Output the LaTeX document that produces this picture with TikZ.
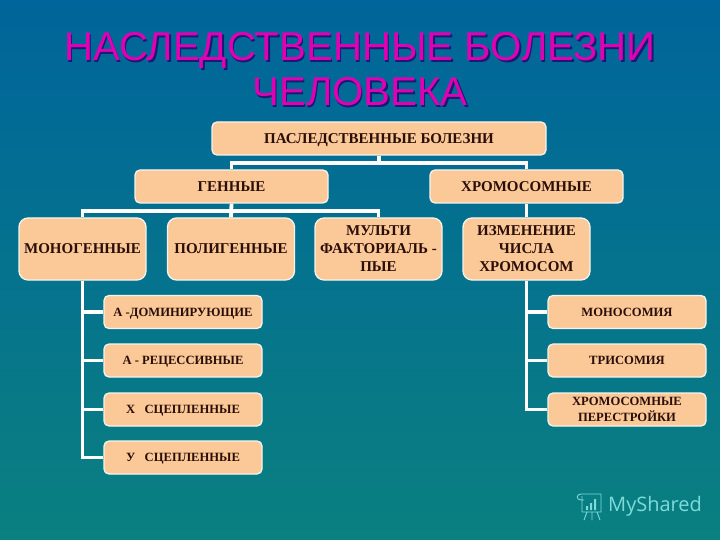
\documentclass[tikz,border=0pt]{standalone}
\usepackage{fontspec}
\setmainfont{Liberation Serif}
\newfontfamily\titlefont{Liberation Sans}
\newfontfamily\markfont{Open Sans}
\definecolor{boxfill}{HTML}{FBC898}
\definecolor{boxline}{HTML}{F4F4EE}
\definecolor{inktext}{HTML}{2A0E08}
\definecolor{bgtop}{HTML}{00659B}
\definecolor{bgbot}{HTML}{0A8080}
\definecolor{titlecol}{HTML}{E000B4}
\definecolor{titleshade}{HTML}{1A1A70}
\definecolor{markcol}{HTML}{7FDADA}
\tikzset{
  bx/.style={draw=boxline,line width=1.3pt,fill=boxfill,rounded corners=5pt,inner sep=0pt,
    align=center,text=inktext,font=\bfseries\fontsize{15}{18}\selectfont},
  wide/.style={bx,minimum width=193pt,minimum height=33pt},
  tall/.style={bx,minimum width=127pt,minimum height=62pt,rounded corners=9pt},
  small/.style={bx,minimum width=158pt,minimum height=33pt,font=\bfseries\fontsize{12.6}{15}\selectfont},
  nodepth/.style={text depth=0pt},
  conn/.style={draw=white,line width=3.8pt},
  ttl/.style={font=\titlefont\fontsize{40.2}{46}\selectfont,inner sep=0pt,anchor=base},
}
\begin{document}
\begin{tikzpicture}[x=1pt,y=-1pt]
\useasboundingbox (0,0) rectangle (720,540);
\fill[top color=bgtop,bottom color=bgbot,shading angle=0] (0,0) rectangle (720,540);
% title
\node[ttl,text=titleshade] (t1s) at (361.5,62.5) {НАСЛЕДСТВЕННЫЕ БОЛЕЗНИ};
\node[ttl,text=titleshade] (t2s) at (361.5,107.5) {ЧЕЛОВЕКА};
\node[ttl,text=titlecol] (t1) at (360,61) {НАСЛЕДСТВЕННЫЕ БОЛЕЗНИ};
\node[ttl,text=titlecol] (t2) at (360,106) {ЧЕЛОВЕКА};
% boxes
\node[wide,minimum width=334pt,nodepth] (root) at (379,138.5) {ПАСЛЕДСТВЕННЫЕ БОЛЕЗНИ};
\node[wide] (gen) at (231.5,186.5) {ГЕННЫЕ};
\node[wide] (chr) at (526.5,186.5) {ХРОМОСОМНЫЕ};
\node[tall] (mono) at (82.5,249) {МОНОГЕННЫЕ};
\node[tall] (poly) at (231,249) {ПОЛИГЕННЫЕ};
\node[tall] (multi) at (378.5,249) {МУЛЬТИ\\ФАКТОРИАЛЬ -\\ПЫЕ};
\node[tall] (izm) at (526.5,249) {ИЗМЕНЕНИЕ\\ЧИСЛА\\ХРОМОСОМ};
\node[small,nodepth] (a1) at (183,312) {А -ДОМИНИРУЮЩИЕ};
\node[small,nodepth] (a2) at (183,360.5) {А - РЕЦЕССИВНЫЕ};
\node[small,nodepth] (a3) at (183,409.5) {Х\ \ \ СЦЕПЛЕННЫЕ};
\node[small,nodepth] (a4) at (183,457.5) {У\ \ \ СЦЕПЛЕННЫЕ};
\node[small] (b1) at (627,312) {МОНОСОМИЯ};
\node[small] (b2) at (627,360.5) {ТРИСОМИЯ};
\node[small,font=\bfseries\fontsize{12.6}{15.5}\selectfont] (b3) at (627,409.5) {ХРОМОСОМНЫЕ\\ПЕРЕСТРОЙКИ};
% connectors
\draw[conn] (root.south) -- ++(0,7.5) -| (gen.north);
\draw[conn] (root.south) -- ++(0,7.5) -| (chr.north);
\draw[conn] (gen.south) -- ++(0,7.5) -| (mono.north);
\draw[conn] (gen.south) -- (poly.north);
\draw[conn] (gen.south) -- ++(0,7.5) -| (multi.north);
\draw[conn] (chr.south) -- (izm.north);
\draw[conn] (mono.south) |- (a1.west);
\draw[conn] (mono.south) |- (a2.west);
\draw[conn] (mono.south) |- (a3.west);
\draw[conn] (mono.south) |- (a4.west);
\draw[conn] (izm.south) |- (b1.west);
\draw[conn] (izm.south) |- (b2.west);
\draw[conn] (izm.south) |- (b3.west);
% watermark
\node[text=markcol,font=\markfont\fontsize{20}{24}\selectfont,inner sep=0pt,anchor=west] (mark) at (608,506) {MyShared};
\begin{scope}[draw=markcol,line width=0.9pt]
\draw (581,494) -- (601,494) -- (601,512) -- (582,512) (581,494) .. controls (576,494) and (576,500) .. (581,500) -- (584,500) (582,512) -- (582,496);
\fill[markcol] (586,506) rectangle (588,510) (590,503) rectangle (592,510) (594,499) rectangle (596,510);
\draw (587,512) -- (584,520) (592,512) -- (592,520) (597,512) -- (600,520);
\end{scope}
\end{tikzpicture}
\end{document}
